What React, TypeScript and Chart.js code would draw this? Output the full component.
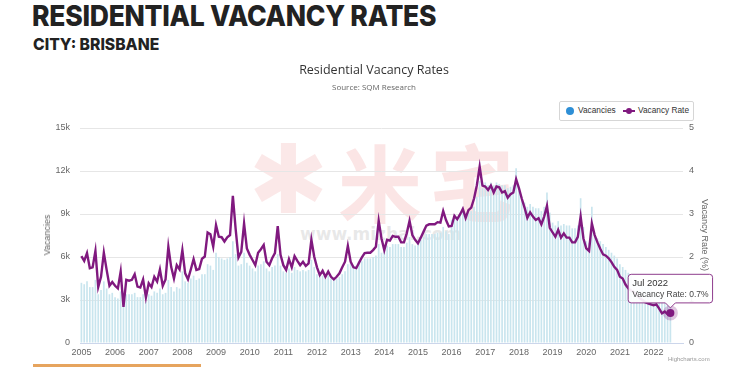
import React, { useEffect, useRef } from 'react';
import { Chart, registerables } from 'chart.js';

Chart.register(...registerables);

const YEARS = [2005, 2006, 2007, 2008, 2009, 2010, 2011, 2012, 2013, 2014, 2015, 2016, 2017, 2018, 2019, 2020, 2021, 2022];
const MONTHS = ['Jan', 'Feb', 'Mar', 'Apr', 'May', 'Jun', 'Jul', 'Aug', 'Sep', 'Oct', 'Nov', 'Dec'];
// x axis runs a few months past the last data point (Jul 2022)
const AXIS_END_MONTH = 'Nov';

// Vacancy Rate (%) monthly, Jan 2005 - Jul 2022
const vacancyRate = [
  2.02, 1.91, 2.09, 1.74, 1.76, 2.14, 1.30, 1.54, 2.10, 1.70, 1.33, 1.42,
  1.33, 1.27, 1.66, 0.84, 1.47, 1.45, 1.47, 1.60, 1.31, 1.29, 1.48, 1.06,
  1.39, 1.30, 1.54, 1.43, 1.71, 1.33, 1.48, 2.24, 1.77, 1.50, 1.81, 1.71,
  2.16, 1.62, 1.48, 1.71, 1.95, 1.70, 1.72, 1.96, 2.01, 2.57, 2.53, 2.24,
  2.74, 2.47, 2.46, 2.36, 2.46, 2.51, 3.42, 2.65, 1.99, 2.12, 2.78, 2.20,
  2.05, 1.93, 1.81, 2.10, 2.18, 2.28, 1.89, 1.81, 1.97, 2.09, 2.72, 2.05,
  1.81, 1.70, 1.95, 1.76, 2.02, 1.91, 1.81, 1.89, 1.79, 1.85, 2.40, 2.01,
  1.76, 1.58, 1.68, 1.54, 1.66, 1.54, 1.48, 1.54, 1.62, 1.76, 1.89, 2.26,
  1.89, 1.76, 1.74, 1.87, 1.99, 2.09, 2.10, 2.10, 2.16, 2.24, 2.84, 2.43,
  2.16, 2.40, 2.38, 2.49, 2.47, 2.47, 2.34, 2.34, 2.55, 2.84, 2.51, 2.40,
  2.32, 2.45, 2.59, 2.73, 2.76, 2.76, 2.76, 2.81, 2.80, 3.07, 2.86, 2.71,
  2.72, 2.96, 2.88, 2.99, 3.12, 2.91, 3.09, 3.15, 3.36, 3.67, 4.10, 3.66,
  3.64, 3.56, 3.66, 3.50, 3.64, 3.62, 3.50, 3.53, 3.38, 3.46, 3.50, 3.81,
  3.60, 3.36, 3.15, 2.91, 3.04, 2.94, 2.86, 2.90, 2.76, 2.94, 3.19, 2.68,
  2.57, 2.47, 2.63, 2.45, 2.55, 2.45, 2.45, 2.34, 2.34, 2.47, 2.94, 2.43,
  2.20, 2.14, 2.78, 2.51, 2.34, 2.19, 2.06, 2.03, 1.97, 1.88, 1.77, 1.70,
  1.54, 1.50, 1.36, 1.27, 1.22, 1.18, 1.12, 1.05, 1.00, 0.95, 0.92, 0.90,
  0.88, 0.90, 0.80, 0.69, 0.73, 0.67, 0.70,
];

// Vacancies (count) monthly, Jan 2005 - Jul 2022
const vacancies = [
  4200, 4100, 4300, 3900, 3900, 4400, 3400, 3700, 4300, 3800, 3400, 3500,
  3200, 3100, 3600, 2600, 3400, 3400, 3400, 3500, 3200, 3200, 3400, 2900,
  3400, 3300, 3600, 3500, 3800, 3400, 3500, 4400, 3900, 3600, 3900, 3800,
  5000, 4300, 4200, 4500, 4700, 4400, 4500, 4800, 4800, 5500, 5400, 5100,
  6300, 6000, 5900, 5800, 5900, 6000, 7100, 6200, 5400, 5500, 6300, 5600,
  5400, 5200, 5000, 5400, 5500, 5700, 5200, 5000, 5300, 5400, 6200, 5400,
  5000, 4900, 5200, 4900, 5300, 5100, 5000, 5100, 5000, 5100, 5800, 5300,
  4800, 4600, 4700, 4500, 4700, 4500, 4400, 4500, 4600, 4800, 5000, 5500,
  5600, 5400, 5400, 5600, 5700, 5900, 5900, 5900, 6000, 6100, 6900, 6300,
  6400, 6800, 6700, 6900, 6900, 6900, 6700, 6700, 7000, 7400, 6900, 6800,
  7000, 7200, 7400, 7600, 7600, 7600, 7600, 7700, 7700, 8100, 7800, 7600,
  8600, 8900, 8800, 9000, 9200, 8900, 9100, 9200, 9500, 10200, 11300, 10800,
  11200, 11000, 11200, 11000, 11200, 11100, 11000, 11000, 10800, 10900, 11000, 12200,
  10600, 10200, 9800, 9500, 9700, 9500, 9400, 9400, 9200, 9500, 10500, 9100,
  8400, 8200, 8500, 8200, 8300, 8200, 8200, 8000, 8000, 8200, 10100, 8100,
  7100, 7000, 9500, 7600, 7300, 7100, 6900, 6700, 6500, 6300, 6100, 5900,
  5500, 5300, 5100, 4900, 4700, 4500, 4400, 4200, 4100, 4000, 3900, 3800,
  3600, 3500, 3300, 3100, 3200, 3000, 3000,
];

const VAC_TICKS = [0, 3000, 6000, 9000, 12000, 15000];
const RATE_TICKS = [0, 1, 2, 3, 4, 5];

const HIGHLIGHT_LABEL = 'Jul 2022';

const PURPLE = '#80197f';
const BAR = '#c9e5ee';
const AXIS_FONT = "'Liberation Sans Narrow', 'Liberation Sans', Arial, sans-serif";

function buildLabels(): string[] {
  const out: string[] = [];
  for (const y of YEARS) {
    for (const m of MONTHS) {
      out.push(m + ' ' + y);
      if (y === YEARS[YEARS.length - 1] && m === AXIS_END_MONTH) return out;
    }
  }
  return out;
}

export default function App() {
  const ref = useRef<HTMLCanvasElement | null>(null);

  useEffect(() => {
    const canvas = ref.current;
    if (!canvas) return;
    const labels = buildLabels();
    const hi = labels.indexOf(HIGHLIGHT_LABEL);
    const chart = new Chart(canvas, {
      data: {
        labels,
        datasets: [
          {
            type: 'line',
            label: 'Vacancy Rate',
            data: vacancyRate,
            yAxisID: 'y1',
            borderColor: PURPLE,
            backgroundColor: PURPLE,
            borderWidth: 2.4,
            pointRadius: 0,
            pointHoverRadius: 4,
            pointHoverBackgroundColor: PURPLE,
            pointHoverBorderColor: 'rgba(128,25,127,0.25)',
            pointHoverBorderWidth: 7,
            tension: 0,
            order: 1,
          } as any,
          {
            type: 'bar',
            label: 'Vacancies',
            data: vacancies,
            yAxisID: 'y',
            backgroundColor: BAR,
            categoryPercentage: 1,
            barPercentage: 0.6,
            order: 2,
          } as any,
        ],
      },
      options: {
        animation: false,
        responsive: false,
        maintainAspectRatio: false,
        events: [],
        layout: { padding: { left: 50, right: 27, top: 128, bottom: 4 } },
        plugins: {
          legend: { display: false },
          title: { display: false },
          tooltip: {
            enabled: true,
            filter: (item: any) => item.datasetIndex === 0,
            displayColors: false,
            backgroundColor: 'rgba(255,255,255,0.92)',
            borderColor: '#8e3c8d',
            borderWidth: 1,
            cornerRadius: 3,
            xAlign: 'center',
            yAlign: 'bottom',
            caretSize: 5,
            caretPadding: 5,
            padding: { top: 3, bottom: 3, left: 4, right: 4 },
            titleColor: '#333',
            bodyColor: '#444',
            titleFont: { family: AXIS_FONT, size: 9.5, weight: 'normal' },
            bodyFont: { family: AXIS_FONT, size: 8.5 },
            titleMarginBottom: 1,
            callbacks: {
              title: (items: any[]) => (items[0] ? items[0].label : ''),
              label: (item: any) => 'Vacancy Rate: ' + Number(item.raw).toFixed(1) + '%',
            },
          },
        },
        scales: {
          x: {
            type: 'category',
            offset: true,
            grid: { display: false, drawTicks: false },
            border: { display: true, color: '#ccd6eb' },
            ticks: {
              autoSkip: false,
              maxRotation: 0,
              minRotation: 0,
              padding: 4,
              color: '#666',
              font: { family: AXIS_FONT, size: 9 },
              callback: (_v: any, i: number) => {
                const l = labels[i] || '';
                return l.startsWith('Jan ') ? l.slice(4) : '';
              },
            },
            afterFit: (s: any) => {
              s.height = 20;
            },
          },
          y: {
            type: 'linear',
            position: 'left',
            min: VAC_TICKS[0],
            max: VAC_TICKS[VAC_TICKS.length - 1],
            afterBuildTicks: (s: any) => {
              s.ticks = VAC_TICKS.map((v) => ({ value: v }));
            },
            grid: { color: '#e6e6e6', drawTicks: false, lineWidth: 1 },
            border: { display: false },
            ticks: {
              padding: 10,
              color: '#666',
              font: { family: AXIS_FONT, size: 9 },
              callback: (v: any) => (Number(v) === 0 ? '0' : Number(v) / 1000 + 'k'),
            },
            afterFit: (s: any) => {
              s.width = 30;
            },
          },
          y1: {
            type: 'linear',
            position: 'right',
            min: RATE_TICKS[0],
            max: RATE_TICKS[RATE_TICKS.length - 1],
            afterBuildTicks: (s: any) => {
              s.ticks = RATE_TICKS.map((v) => ({ value: v }));
            },
            grid: { display: false, drawTicks: false },
            border: { display: false },
            ticks: {
              padding: 6,
              color: '#666',
              font: { family: AXIS_FONT, size: 9 },
            },
            afterFit: (s: any) => {
              s.width = 30;
            },
          },
        },
      } as any,
    });

    if (hi >= 0) {
      const active = [{ datasetIndex: 0, index: hi }];
      chart.setActiveElements(active);
      const meta = chart.getDatasetMeta(0);
      const el: any = meta.data[hi];
      chart.tooltip?.setActiveElements(active, { x: el ? el.x : 0, y: el ? el.y : 0 });
      chart.update();
    }

    return () => {
      chart.destroy();
    };
  }, []);

  const wrap: React.CSSProperties = {
    position: 'absolute',
    left: 0,
    top: 0,
    width: 740,
    height: 367,
    background: '#fff',
    overflow: 'hidden',
  };

  return (
    <div style={wrap}>
      <div
        style={{
          position: 'absolute',
          left: 32,
          top: -2,
          fontFamily: "Inter, Lato, 'Open Sans', sans-serif",
          fontWeight: 800,
          fontSize: 29,
          letterSpacing: -0.3,
          color: '#222',
          whiteSpace: 'nowrap',
          transform: 'scaleX(0.915)',
          transformOrigin: '0 0',
        }}
      >
        RESIDENTIAL VACANCY RATES
      </div>
      <div
        style={{
          position: 'absolute',
          left: 33,
          top: 34,
          fontFamily: "Inter, Lato, 'Open Sans', sans-serif",
          fontWeight: 800,
          fontSize: 16.5,
          color: '#222',
          whiteSpace: 'nowrap',
          transform: 'scaleX(0.95)',
          transformOrigin: '0 0',
        }}
      >
        CITY: BRISBANE
      </div>

      {/* watermark */}
      <div
        style={{
          position: 'absolute',
          left: 248,
          top: 130,
          fontFamily: "'DejaVu Sans', sans-serif",
          fontSize: 96,
          lineHeight: '100px',
          color: 'rgba(232,110,110,0.16)',
          pointerEvents: 'none',
        }}
      >
        ✱
      </div>
      <div
        style={{
          position: 'absolute',
          left: 338,
          top: 130,
          fontFamily: "'Noto Sans CJK SC', sans-serif",
          fontWeight: 700,
          fontSize: 84,
          lineHeight: '100px',
          letterSpacing: 8,
          color: 'rgba(232,110,110,0.18)',
          pointerEvents: 'none',
          whiteSpace: 'nowrap',
        }}
      >
        米宅
      </div>
      <div
        style={{
          position: 'absolute',
          left: 300,
          top: 224,
          fontFamily: "'DejaVu Sans', sans-serif",
          fontWeight: 700,
          fontSize: 17,
          color: 'rgba(190,190,190,0.35)',
          pointerEvents: 'none',
          whiteSpace: 'nowrap',
        }}
      >
        www.mizhai.com
      </div>

      <canvas ref={ref} width={740} height={367} style={{ position: 'absolute', left: 0, top: 0, width: 740, height: 367 }} />

      <div
        style={{
          position: 'absolute',
          left: 0,
          width: 748,
          top: 61,
          textAlign: 'center',
          fontFamily: "'Open Sans', 'Liberation Sans', sans-serif",
          fontSize: 12.5,
          color: '#333',
        }}
      >
        Residential Vacancy Rates
      </div>
      <div
        style={{
          position: 'absolute',
          left: 0,
          width: 748,
          top: 81,
          textAlign: 'center',
          fontFamily: "'Open Sans', 'Liberation Sans', sans-serif",
          fontSize: 8,
          color: '#666',
        }}
      >
        Source: SQM Research
      </div>

      {/* legend */}
      <div
        style={{
          position: 'absolute',
          left: 559,
          top: 101,
          width: 133,
          height: 18,
          border: '1px solid #d6d6d6',
          borderRadius: 2,
          background: '#fff',
          fontFamily: AXIS_FONT,
          fontSize: 8.3,
          color: '#333',
          whiteSpace: 'nowrap',
        }}
      >
        <span style={{ position: 'absolute', left: 6, top: 5, width: 8, height: 8, borderRadius: 4, background: '#2e8fd6' }} />
        <span style={{ position: 'absolute', left: 18, top: 3, whiteSpace: 'nowrap' }}>Vacancies</span>
        <span style={{ position: 'absolute', left: 63, top: 8, width: 12, height: 2, background: PURPLE }} />
        <span style={{ position: 'absolute', left: 66, top: 6, width: 6, height: 6, borderRadius: 3, background: PURPLE }} />
        <span style={{ position: 'absolute', left: 78, top: 3, whiteSpace: 'nowrap' }}>Vacancy Rate</span>
      </div>

      {/* axis titles */}
      <div
        style={{
          position: 'absolute',
          left: 47,
          top: 235,
          transform: 'translate(-50%, -50%) rotate(-90deg)',
          fontFamily: AXIS_FONT,
          fontSize: 9,
          color: '#666',
          whiteSpace: 'nowrap',
        }}
      >
        Vacancies
      </div>
      <div
        style={{
          position: 'absolute',
          left: 705,
          top: 235,
          transform: 'translate(-50%, -50%) rotate(90deg)',
          fontFamily: AXIS_FONT,
          fontSize: 9,
          color: '#666',
          whiteSpace: 'nowrap',
        }}
      >
        Vacancy Rate (%)
      </div>

      <div
        style={{
          position: 'absolute',
          left: 668,
          top: 356,
          fontFamily: AXIS_FONT,
          fontSize: 6,
          color: '#999',
          whiteSpace: 'nowrap',
        }}
      >
        Highcharts.com
      </div>
      <div style={{ position: 'absolute', left: 33, top: 364, width: 168, height: 3, background: '#e6a45e' }} />
    </div>
  );
}
